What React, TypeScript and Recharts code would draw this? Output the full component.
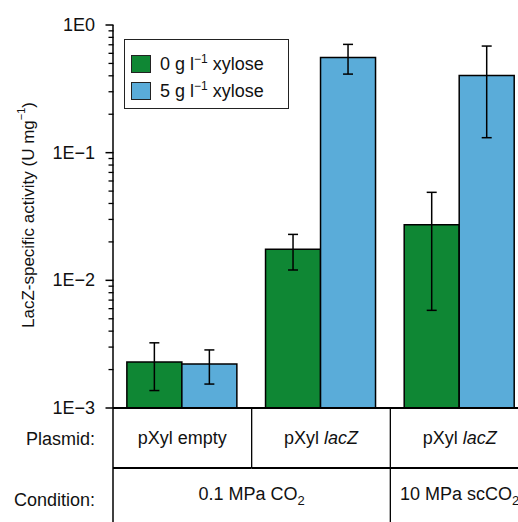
import { Bar, BarChart, ErrorBar, Label, Legend, XAxis, YAxis } from 'recharts';

// LacZ activity on a log axis, two xylose levels per plasmid/condition
const plasmidGene = ['empty', 'lacZ', 'lacZ'];
const conditions = ['0.1 MPa CO_2', '0.1 MPa CO_2', '10 MPa scCO_2'];
const xyloseLevels = ['0', '5'];

const noXylose = [0.00229, 0.0175, 0.0272];
const noXyloseLow = [0.00137, 0.01205, 0.00582];
const noXyloseHigh = [0.00324, 0.0229, 0.0489];

const withXylose = [0.00221, 0.557, 0.403];
const withXyloseLow = [0.00154, 0.4125, 0.131];
const withXyloseHigh = [0.00285, 0.705, 0.684];

const majorTicks = [0.001, 0.01, 0.1, 1];
const majorLabels = ['1E\u22123', '1E\u22122', '1E\u22121', '1E0'];
// minor tick multipliers inside each decade
const minorSteps = [2, 3, 4, 5, 6, 7, 8, 9];

const GREEN = '#0f8734';
const BLUE = '#5aacd9';
const FONT = '"Liberation Sans", Arial, Helvetica, sans-serif';

const CHART_W = 529;
const CHART_H = 522;
const TOP = 25;
const Y_W = 113;
const X_H = 114;
const BOTTOM = CHART_H - X_H;
const ROW_Y = 468;
const BAND = (CHART_W - Y_W) / plasmidGene.length;
const DECADE = (BOTTOM - TOP) / (majorTicks.length - 1);

const data = plasmidGene.map((gene, i) => ({
	id: i,
	zero: noXylose[i],
	zeroErr: [noXylose[i] - noXyloseLow[i], noXyloseHigh[i] - noXylose[i]],
	five: withXylose[i],
	fiveErr: [withXylose[i] - withXyloseLow[i], withXyloseHigh[i] - withXylose[i]],
}));

function SubText({ text }: { text: string }) {
	const [base, sub] = text.split('_');
	return (
		<>
			<tspan>{base}</tspan>
			{sub && (
				<tspan fontSize={13} dy={5}>
					{sub}
				</tspan>
			)}
		</>
	);
}

function YTick(props: any) {
	const { y, index } = props;
	return (
		<g>
			<path d={`M${Y_W - 7.5},${y}H${Y_W + 0.5}`} stroke="#000" strokeWidth={1.5} fill="none" />
			{/* minor ticks of the decade below this major tick */}
			{index > 0 &&
				minorSteps.map((m) => {
					const my = y + DECADE * (1 - Math.log10(m));
					return <path key={m} d={`M${Y_W - 4.5},${my}H${Y_W + 0.5}`} stroke="#000" strokeWidth={1.3} fill="none" />;
				})}
			<text x={Y_W - 18} y={y + 6} textAnchor="end" fontSize={18} fontFamily={FONT} fill="#111">
				{majorLabels[index]}
			</text>
		</g>
	);
}

function TableTick(props: any) {
	const { x, index } = props;
	const left = x - BAND / 2;
	const right = x + BAND / 2;
	const gene = plasmidGene[index];
	const cond = conditions[index];
	const last = index === plasmidGene.length - 1;
	const condEnds = last || conditions[index + 1] !== cond;
	const condStarts = index === 0 || conditions[index - 1] !== cond;
	let run = 1;
	while (index + run < conditions.length && conditions[index + run] === cond) run++;

	return (
		<g fontFamily={FONT} fontSize={18} fill="#111">
			{index === 0 && (
				<>
					<line x1={left} x2={left} y1={BOTTOM} y2={CHART_H} stroke="#000" strokeWidth={1.5} />
					<text x={left - 18} y={445} textAnchor="end">Plasmid:</text>
					<text x={left - 18} y={506} textAnchor="end">Condition:</text>
				</>
			)}
			<line x1={left} x2={right} y1={ROW_Y} y2={ROW_Y} stroke="#000" strokeWidth={2} />
			{!last && (
				<line
					x1={right}
					x2={right}
					y1={BOTTOM}
					y2={condEnds ? CHART_H : ROW_Y}
					stroke="#000"
					strokeWidth={1.3}
				/>
			)}
			<text x={x} y={444} textAnchor="middle">
				<tspan>pXyl </tspan>
				<tspan fontStyle={gene === 'empty' ? 'normal' : 'italic'}>{gene}</tspan>
			</text>
			{condStarts && (
				<text x={x + ((run - 1) * BAND) / 2} y={500} textAnchor="middle">
					<SubText text={cond} />
				</text>
			)}
		</g>
	);
}

function LegendBox({ payload }: any) {
	return (
		<div
			style={{
				border: '1.5px solid #222',
				width: 165,
				height: 70,
				boxSizing: 'border-box',
				padding: '10px 0 0 6px',
				fontFamily: FONT,
				fontSize: 18,
				color: '#111',
				background: '#fff',
			}}
		>
			{(payload || []).map((entry: any) => (
				<div key={entry.value} style={{ display: 'flex', alignItems: 'center', height: 27 }}>
					<span
						style={{
							display: 'inline-block',
							width: 20,
							height: 18,
							background: entry.color,
							border: '1.5px solid #222',
							boxSizing: 'border-box',
							marginRight: 9,
						}}
					/>
					<span>
						{entry.value} g l<sup style={{ fontSize: 12, verticalAlign: 7 }}>{'\u22121'}</sup> xylose
					</span>
				</div>
			))}
		</div>
	);
}

export default function App() {
	return (
		<div style={{ position: 'absolute', left: 0, top: 0, width: 518, height: 522, overflow: 'hidden', background: '#fff' }}>
			<BarChart
				width={CHART_W}
				height={CHART_H}
				data={data}
				margin={{ top: TOP, right: 0, bottom: 0, left: 0 }}
				barCategoryGap="10%"
				barGap={0}
			>
				<XAxis
					dataKey="id"
					type="category"
					height={X_H}
					interval={0}
					tickLine={false}
					axisLine={{ stroke: '#000', strokeWidth: 2 }}
					tick={<TableTick />}
				/>
				<YAxis
					scale="log"
					type="number"
					domain={[0.001, 1]}
					allowDataOverflow
					ticks={majorTicks}
					interval={0}
					width={Y_W}
					tickLine={false}
					axisLine={{ stroke: '#000', strokeWidth: 1.5 }}
					tick={<YTick />}
				>
					<Label
						content={() => (
							<text
								x={28}
								y={215}
								transform="rotate(-90, 28, 215)"
								textAnchor="middle"
								dominantBaseline="central"
								fontFamily={FONT}
								fontSize={17}
								fill="#111"
							>
								LacZ-specific activity (U mg
								<tspan fontSize={11} dy={-7}>{'\u22121'}</tspan>
								<tspan dy={7}>)</tspan>
							</text>
						)}
					/>
				</YAxis>
				<Legend
					layout="horizontal"
					verticalAlign="middle"
					align="center"
					content={<LegendBox />}
					wrapperStyle={{ left: 124, top: 39, width: 'auto', height: 'auto' }}
				/>
				<Bar dataKey="zero" name={xyloseLevels[0]} fill={GREEN} stroke="#000" strokeWidth={1.5} isAnimationActive={false}>
					<ErrorBar dataKey="zeroErr" width={5} stroke="#000" strokeWidth={1.5} direction="y" />
				</Bar>
				<Bar dataKey="five" name={xyloseLevels[1]} fill={BLUE} stroke="#000" strokeWidth={1.5} isAnimationActive={false}>
					<ErrorBar dataKey="fiveErr" width={5} stroke="#000" strokeWidth={1.5} direction="y" />
				</Bar>
			</BarChart>
		</div>
	);
}
